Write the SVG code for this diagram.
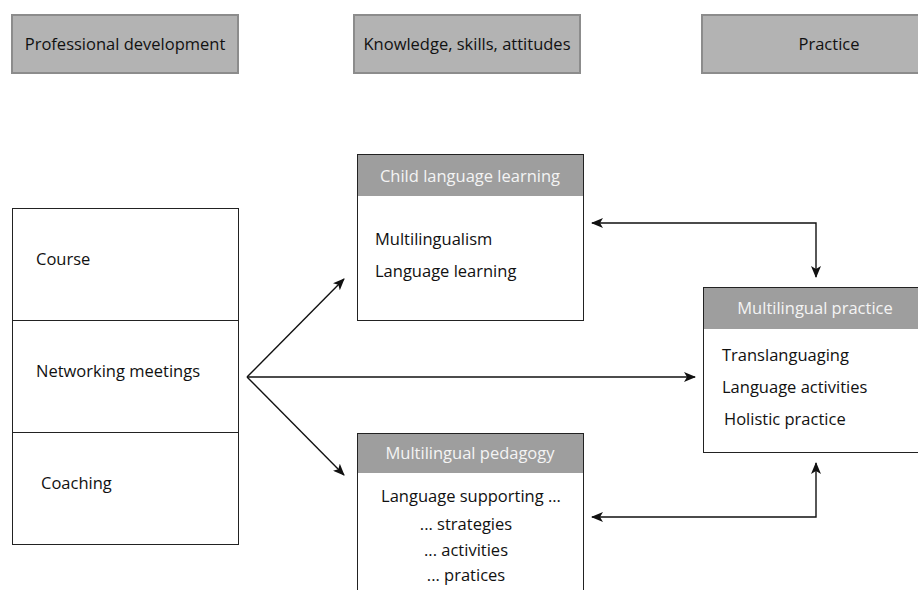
<svg xmlns="http://www.w3.org/2000/svg" width="918" height="590" viewBox="0 0 918 590">
<style>
.hdr{fill:#b3b3b3;stroke:#8c8c8c;stroke-width:2}
.box{fill:#fff;stroke:#222;stroke-width:1}
.bar{fill:#9e9e9e}
text{font-family:"Open Sans","Liberation Sans",sans-serif;font-size:16.5px;fill:#111}
.wt{fill:#f4f4f4}
.c{text-anchor:middle}
.ln{fill:none;stroke:#111;stroke-width:1.4}
</style>
<defs>
<marker id="ah" viewBox="0 0 12 10" refX="11" refY="5" markerWidth="12" markerHeight="10" markerUnits="userSpaceOnUse" orient="auto-start-reverse">
<path d="M0,0 L12,5 L0,10 L3,5 Z" fill="#111"/>
</marker>
</defs>
<g id="col-pd"><rect class="hdr" x="12" y="15" width="226" height="58"/><text class="c" x="125" y="50">Professional development</text></g>
<g id="col-ksa"><rect class="hdr" x="354" y="15" width="226" height="58"/><text class="c" x="467" y="50">Knowledge, skills, attitudes</text></g>
<g id="col-pr"><rect class="hdr" x="702" y="15" width="220" height="58"/><text class="c" x="829" y="50">Practice</text></g>

<g id="pd-box">
<rect class="box" x="12.5" y="208.5" width="226" height="336"/>
<line class="box" x1="12.5" y1="320.5" x2="238.5" y2="320.5"/>
<line class="box" x1="12.5" y1="432.5" x2="238.5" y2="432.5"/>
<text x="36" y="265">Course</text>
<text x="36" y="377">Networking meetings</text>
<text x="41" y="489">Coaching</text>
</g>

<g id="cll">
<rect class="box" x="357.5" y="154.5" width="226" height="166"/>
<rect class="bar" x="358" y="155" width="225" height="41"/>
<text class="c wt" x="470" y="182">Child language learning</text>
<text x="375" y="245">Multilingualism</text>
<text x="375" y="277">Language learning</text>
</g>

<g id="mp">
<rect class="box" x="703.5" y="287.5" width="220" height="165"/>
<rect class="bar" x="704" y="288" width="220" height="41"/>
<text class="c wt" x="815" y="314">Multilingual practice</text>
<text x="722" y="361">Translanguaging</text>
<text x="722" y="393">Language activities</text>
<text x="724" y="425">Holistic practice</text>
</g>

<g id="mped">
<rect class="box" x="357.5" y="433.5" width="226" height="170"/>
<rect class="bar" x="358" y="434" width="225" height="39"/>
<text class="c wt" x="470" y="459">Multilingual pedagogy</text>
<text class="c" x="471" y="502">Language supporting ...</text>
<text class="c" x="466" y="530">... strategies</text>
<text class="c" x="466" y="556">... activities</text>
<text class="c" x="466" y="581">... pratices</text>
</g>

<g id="connectors">
<line class="ln" x1="247" y1="377" x2="344" y2="279" marker-end="url(#ah)"/>
<line class="ln" x1="247" y1="377" x2="344" y2="475" marker-end="url(#ah)"/>
<line class="ln" x1="247" y1="377" x2="695" y2="377" marker-end="url(#ah)"/>
<path class="ln" d="M816,277 V223 H592" marker-start="url(#ah)" marker-end="url(#ah)"/>
<path class="ln" d="M816,463 V517 H592" marker-start="url(#ah)" marker-end="url(#ah)"/>
</g>
</svg>
